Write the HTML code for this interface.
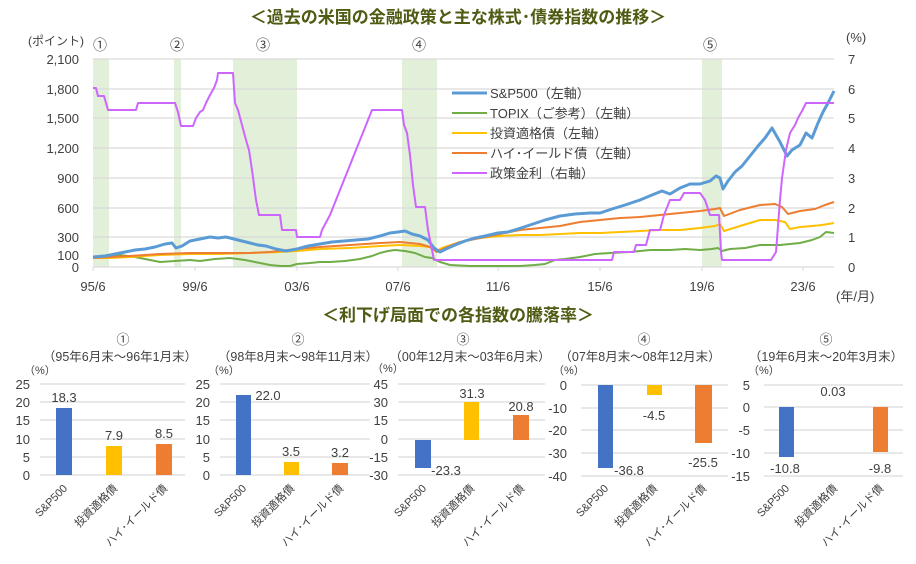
<!DOCTYPE html>
<html><head><meta charset="utf-8"><style>
body{margin:0;background:#fff;}
svg{display:block;font-family:"Liberation Sans","Noto Sans CJK JP",sans-serif;}
.ax{font-size:13px;fill:#404040;}
.sm{font-size:11px;fill:#404040;}
.lg{font-size:13px;fill:#404040;}
.tt{font-size:17px;font-weight:bold;fill:#4f5a12;}
.gl{stroke:#d9d9d9;stroke-width:1.3;}
</style></head><body>
<svg width="916" height="564" viewBox="0 0 916 564" xmlns="http://www.w3.org/2000/svg">
<rect width="916" height="564" fill="#fff"/>
<text x="458" y="23" text-anchor="middle" class="tt">＜過去の米国の金融政策と主な株式･債券指数の推移＞</text>
<!-- bands -->
<g fill="#e2efd9">
<rect x="93" y="59" width="16" height="208"/>
<rect x="174" y="59" width="7" height="208"/>
<rect x="233" y="59" width="64" height="208"/>
<rect x="402" y="59" width="35" height="208"/>
<rect x="702" y="59" width="20" height="208"/>
</g>
<g class="gl">
<line x1="93" x2="834" y1="59" y2="59"/><line x1="93" x2="834" y1="89" y2="89"/>
<line x1="93" x2="834" y1="118" y2="118"/><line x1="93" x2="834" y1="148" y2="148"/>
<line x1="93" x2="834" y1="178" y2="178"/><line x1="93" x2="834" y1="208" y2="208"/>
<line x1="93" x2="834" y1="237" y2="237"/><line x1="93" x2="834" y1="267" y2="267"/>
</g>
<g stroke="#d9d9d9"><line x1="93" x2="93" y1="267" y2="271"/><line x1="195" x2="195" y1="267" y2="271"/><line x1="297" x2="297" y1="267" y2="271"/><line x1="398" x2="398" y1="267" y2="271"/><line x1="498" x2="498" y1="267" y2="271"/><line x1="600" x2="600" y1="267" y2="271"/><line x1="702" x2="702" y1="267" y2="271"/><line x1="803" x2="803" y1="267" y2="271"/></g>
<g class="ax" text-anchor="end">
<text x="79" y="64">2,100</text><text x="79" y="94">1,800</text><text x="79" y="123">1,500</text>
<text x="79" y="153">1,200</text><text x="79" y="183">900</text><text x="79" y="213">600</text>
<text x="79" y="242">300</text><text x="79" y="260">100</text><text x="79" y="272">0</text>
</g>
<g class="ax">
<text x="848" y="64">7</text><text x="848" y="94">6</text><text x="848" y="123">5</text><text x="848" y="153">4</text>
<text x="848" y="183">3</text><text x="848" y="213">2</text><text x="848" y="242">1</text><text x="848" y="272">0</text>
<text x="846" y="42">(%)</text><text x="836" y="301">(年/月)</text><text x="28" y="45" font-size="12">(ポイント)</text>
</g>
<g class="ax" text-anchor="middle">
<text x="93" y="291">95/6</text><text x="195" y="291">99/6</text><text x="297" y="291">03/6</text><text x="398" y="291">07/6</text>
<text x="498" y="291">11/6</text><text x="600" y="291">15/6</text><text x="702" y="291">19/6</text><text x="803" y="291">23/6</text>
<text x="100" y="50" font-size="14">①</text><text x="177" y="50" font-size="14">②</text><text x="263" y="50" font-size="14">③</text><text x="419" y="50" font-size="14">④</text><text x="710" y="50" font-size="14">⑤</text>
</g>
<g fill="none" stroke-linejoin="round">
<polyline stroke="#70ad47" stroke-width="2" points="93,258 100,257 110,256 120,255 135,257 150,260 160,262 175,261 190,260 200,261 215,259 230,258 245,260 260,263 270,265 280,266 290,266 297,264 310,263 320,262 330,262 345,261 360,259 372,256 380,253 388,251 395,250 405,251 415,253 425,257 432,258 440,262 450,265 470,266 500,266 520,266 535,265 545,264 555,260 565,259 580,257 595,254 610,253 630,252 650,250 670,250 685,249 700,250 712,249 718,248 722,251 730,249 745,248 760,245 780,245 800,243 812,240 820,237 826,232 834,233"/>
<polyline stroke="#ffc000" stroke-width="2" points="93,258 110,258 130,257 160,255 190,254 220,254 250,253 280,252 297,251 320,249 350,248 380,246 400,245 420,246 430,247 436,251 442,248 460,242 480,238 500,236 520,235 540,235 560,234 580,233 600,233 620,232 640,231 660,230 680,230 700,228 715,226 720,224 724,231 740,226 760,220 775,220 785,222 790,229 800,227 812,226 822,225 834,223"/>
<polyline stroke="#ed7d31" stroke-width="2" points="93,258 110,257 130,256 160,254 190,253 220,253 250,253 270,252 297,249 320,247 350,245 380,243 400,242 420,244 430,247 437,252 445,248 460,242 480,238 500,234 520,230 540,228 560,226 580,222 600,220 620,218 640,217 660,215 680,213 700,211 715,209 720,208 724,216 740,210 760,205 775,204 782,207 788,214 800,211 815,209 825,205 834,202"/>
<polyline stroke="#5b9bd5" stroke-width="3" points="93,257 105,256 115,254 125,252 135,250 145,249 155,247 165,244 172,243 176,248 182,246 190,241 200,239 210,237 218,238 226,237 234,239 242,241 250,243 258,245 266,246 276,249 286,251 297,249 308,246 320,244 332,242 344,241 356,240 368,239 380,236 390,233 398,232 405,231 412,234 420,236 428,240 434,248 440,252 446,249 455,245 465,241 475,238 485,236 498,233 508,232 518,229 530,225 545,220 560,216 575,214 590,213 600,213 612,209 625,205 640,200 652,195 662,191 670,194 680,188 690,184 700,184 710,181 716,176 720,178 723,189 728,181 735,172 742,166 750,156 758,146 765,138 772,128 776,135 780,142 784,150 787,156 792,150 800,145 806,133 812,138 818,123 823,112 828,103 834,91"/>
<polyline stroke="#cc66ff" stroke-width="2" points="93,88 96,88 98,96 104,96 108,110 136,110 138,103 175,103 178,112 181,126 193,126 196,118 200,112 203,110 206,103 210,95 214,88 217,80 218,73 233,73 235,103 238,110 242,125 246,140 249,150 252,170 256,200 259,215 280,215 282,230 296,230 297,237 320,237 322,230 330,215 336,200 342,185 348,170 354,155 360,140 366,125 372,110 402,110 404,125 407,133 410,155 413,185 416,207 425,207 428,230 432,250 434,260 612,260 614,252 634,252 636,245 646,245 650,230 660,230 664,215 670,200 680,200 684,193 700,193 705,200 710,215 719,215 721,252 722,260 771,260 776,252 780,200 782,178 786,150 790,133 795,125 798,118 802,111 806,103 834,103"/>
</g>
<!-- legend -->
<g stroke-width="2">
<line x1="452" x2="487" y1="93" y2="93" stroke="#5b9bd5" stroke-width="3"/>
<line x1="452" x2="487" y1="113" y2="113" stroke="#70ad47"/>
<line x1="452" x2="487" y1="133" y2="133" stroke="#ffc000"/>
<line x1="452" x2="487" y1="153" y2="153" stroke="#ed7d31"/>
<line x1="452" x2="487" y1="173" y2="173" stroke="#cc66ff"/>
</g>
<g class="lg">
<text x="490" y="98">S&amp;P500（左軸）</text><text x="490" y="118">TOPIX（ご参考）（左軸）</text>
<text x="490" y="138">投資適格債（左軸）</text><text x="490" y="158">ハイ･イールド債（左軸）</text><text x="490" y="178">政策金利（右軸）</text>
</g>
<text x="458" y="321" text-anchor="middle" class="tt">＜利下げ局面での各指数の騰落率＞</text>
<!-- panel titles -->
<g class="ax" text-anchor="middle" font-size="13">
<text x="123" y="344">①</text><text x="120" y="361" font-size="12.5">（95年6月末～96年1月末）</text>
<text x="298" y="344">②</text><text x="298" y="361" font-size="12.5">（98年8月末～98年11月末）</text>
<text x="463" y="344">③</text><text x="470" y="361" font-size="12.5">（00年12月末～03年6月末）</text>
<text x="644" y="344">④</text><text x="640" y="361" font-size="12.5">（07年8月末～08年12月末）</text>
<text x="826" y="344">⑤</text><text x="826" y="361" font-size="12.5">（19年6月末～20年3月末）</text>
</g>
<g class="sm"><text x="24" y="374">（%）</text><text x="208" y="374">（%）</text><text x="372" y="372">（%）</text><text x="553" y="374">（%）</text><text x="748" y="374">（%）</text></g>
<!-- gridlines bottom -->
<g class="gl">
<line x1="40" x2="185" y1="384" y2="384"/><line x1="40" x2="185" y1="402" y2="402"/><line x1="40" x2="185" y1="420" y2="420"/><line x1="40" x2="185" y1="439" y2="439"/><line x1="40" x2="185" y1="457" y2="457"/><line x1="40" x2="185" y1="475" y2="475"/>
<line x1="220" x2="370" y1="384" y2="384"/><line x1="220" x2="370" y1="402" y2="402"/><line x1="220" x2="370" y1="420" y2="420"/><line x1="220" x2="370" y1="439" y2="439"/><line x1="220" x2="370" y1="457" y2="457"/><line x1="220" x2="370" y1="475" y2="475"/>
<line x1="398" x2="545" y1="384" y2="384"/><line x1="398" x2="545" y1="402" y2="402"/><line x1="398" x2="545" y1="420" y2="420"/><line x1="398" x2="545" y1="439" y2="439"/><line x1="398" x2="545" y1="457" y2="457"/><line x1="398" x2="545" y1="475" y2="475"/>
<line x1="581" x2="728" y1="385" y2="385"/><line x1="581" x2="728" y1="408" y2="408"/><line x1="581" x2="728" y1="430" y2="430"/><line x1="581" x2="728" y1="453" y2="453"/><line x1="581" x2="728" y1="476" y2="476"/>
<line x1="764" x2="903" y1="385" y2="385"/><line x1="764" x2="903" y1="407" y2="407"/><line x1="764" x2="903" y1="430" y2="430"/><line x1="764" x2="903" y1="453" y2="453"/><line x1="764" x2="903" y1="476" y2="476"/>
</g>
<g class="ax" text-anchor="end">
<text x="30" y="389">25</text><text x="30" y="407">20</text><text x="30" y="425">15</text><text x="30" y="444">10</text><text x="30" y="462">5</text><text x="30" y="480">0</text>
<text x="210" y="389">25</text><text x="210" y="407">20</text><text x="210" y="425">15</text><text x="210" y="444">10</text><text x="210" y="462">5</text><text x="210" y="480">0</text>
<text x="388" y="389">45</text><text x="388" y="407">30</text><text x="388" y="425">15</text><text x="388" y="444">0</text><text x="388" y="462">-15</text><text x="388" y="480">-30</text>
<text x="567" y="390">0</text><text x="567" y="413">-10</text><text x="567" y="435">-20</text><text x="567" y="458">-30</text><text x="567" y="481">-40</text>
<text x="750" y="390">5</text><text x="750" y="412">0</text><text x="750" y="435">-5</text><text x="750" y="458">-10</text><text x="750" y="481">-15</text>
</g>
<!-- bars -->
<rect x="56" y="408" width="16" height="67" fill="#4472c4"/>
<rect x="106" y="446" width="16" height="29" fill="#ffc000"/>
<rect x="156" y="444" width="16" height="31" fill="#ed7d31"/>
<rect x="236" y="395" width="15" height="80" fill="#4472c4"/>
<rect x="284" y="462" width="15" height="13" fill="#ffc000"/>
<rect x="332" y="463" width="16" height="12" fill="#ed7d31"/>
<rect x="415" y="440" width="16" height="28" fill="#4472c4"/>
<rect x="464" y="402" width="15" height="38" fill="#ffc000"/>
<rect x="513" y="415" width="16" height="25" fill="#ed7d31"/>
<rect x="598" y="385" width="15" height="83" fill="#4472c4"/>
<rect x="647" y="385" width="15" height="10" fill="#ffc000"/>
<rect x="695" y="385" width="17" height="58" fill="#ed7d31"/>
<rect x="779" y="407" width="15" height="50" fill="#4472c4"/>
<rect x="873" y="407" width="15" height="45" fill="#ed7d31"/>
<g class="ax" text-anchor="middle">
<text x="64" y="402">18.3</text><text x="114" y="440">7.9</text><text x="164" y="438">8.5</text>
<text x="268" y="400">22.0</text><text x="291" y="456">3.5</text><text x="340" y="457">3.2</text>
<text x="446" y="475">-23.3</text><text x="472" y="398">31.3</text><text x="521" y="411">20.8</text>
<text x="629" y="475">-36.8</text><text x="654" y="420">-4.5</text><text x="703" y="467">-25.5</text>
<text x="785" y="473">-10.8</text><text x="833" y="396">0.03</text><text x="880" y="473">-9.8</text>
</g>
<g class="sm" text-anchor="end">
<text transform="translate(68,489) rotate(-45)">S&amp;P500</text><text transform="translate(118,489) rotate(-45)">投資適格債</text><text transform="translate(168,489) rotate(-45)">ハイ･イールド債</text>
<text transform="translate(247,489) rotate(-45)">S&amp;P500</text><text transform="translate(295,489) rotate(-45)">投資適格債</text><text transform="translate(344,489) rotate(-45)">ハイ･イールド債</text>
<text transform="translate(427,489) rotate(-45)">S&amp;P500</text><text transform="translate(475,489) rotate(-45)">投資適格債</text><text transform="translate(525,489) rotate(-45)">ハイ･イールド債</text>
<text transform="translate(609,489) rotate(-45)">S&amp;P500</text><text transform="translate(658,489) rotate(-45)">投資適格債</text><text transform="translate(707,489) rotate(-45)">ハイ･イールド債</text>
<text transform="translate(790,489) rotate(-45)">S&amp;P500</text><text transform="translate(838,489) rotate(-45)">投資適格債</text><text transform="translate(884,489) rotate(-45)">ハイ･イールド債</text>
</g>
</svg>
</body></html>
